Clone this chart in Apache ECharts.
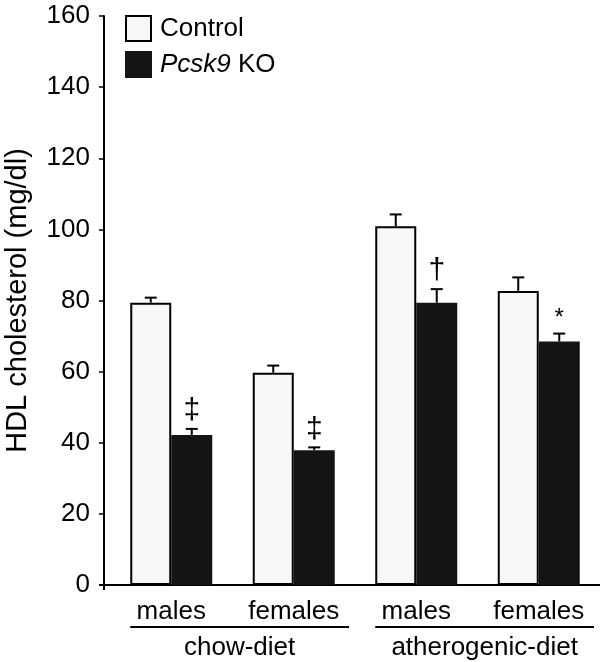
<!DOCTYPE html>
<html>
<head>
<meta charset="utf-8">
<script src="https://cdn.jsdelivr.net/npm/echarts@6/dist/echarts.min.js"></script>
<style>
  html, body { margin: 0; padding: 0; background: #fff; }
  #chart { width: 600px; height: 662px; }
</style>
</head>
<body>
<div id="chart"></div>
<script>
const categories = ['males', 'females', 'males', 'females']
const controlMeans = [79.4, 59.7, 100.9, 82.7]
const controlErr = [1.4, 2.0, 3.3, 3.8]
const koMeans = [42.2, 37.9, 79.4, 68.5]
const koErr = [1.7, 0.8, 3.8, 2.2]
const koMarks = ['‡', '‡', '†', '*']
const dietGroups = ['chow-diet', 'atherogenic-diet']
const dietSpans = [[0, 1], [2, 3]]
const yTicks = [0, 20, 40, 60, 80, 100, 120, 140, 160]

const FONT = '"Liberation Sans", Arial, Helvetica, sans-serif'
const BAR_W = 41
const GRID_LEFT = 110
const Y_OFFSET = 6

const chart = echarts.init(document.getElementById('chart'))

// upward-only error bar with a small cap, side -1 = control, +1 = KO
function errorBar(side) {
  return function (params, api) {
    const i = api.value(0)
    const base = api.coord([i, api.value(1)])
    const top = api.coord([i, api.value(1) + api.value(2)])
    const x = base[0] + side * BAR_W / 2
    const style = { stroke: '#000', lineWidth: 2 }
    return {
      type: 'group',
      children: [
        { type: 'line', shape: { x1: x, y1: base[1], x2: x, y2: top[1] }, style },
        { type: 'line', shape: { x1: x - 6, y1: top[1], x2: x + 6, y2: top[1] }, style },
      ],
    }
  }
}

chart.setOption({
  animation: false,
  backgroundColor: '#fff',
  textStyle: { fontFamily: FONT },
  grid: { left: GRID_LEFT, right: 0, top: 16, bottom: 77, outerBoundsMode: 'none' },
  legend: {
    data: ['Control', 'Pcsk9 KO'],
    orient: 'vertical',
    left: 125,
    top: 15,
    padding: 0,
    itemWidth: 25,
    itemHeight: 25,
    itemGap: 9,
    icon: 'rect',
    formatter: (name) => (name === 'Pcsk9 KO' ? '{i|Pcsk9} KO' : name),
    textStyle: {
      fontSize: 26,
      color: '#000',
      fontFamily: FONT,
      padding: [0, 0, 0, 4],
      rich: { i: { fontStyle: 'italic', fontSize: 26, fontFamily: FONT } },
    },
  },
  xAxis: {
    type: 'category',
    data: categories,
    axisLine: { lineStyle: { color: '#000', width: 2 } },
    axisTick: { show: false },
    axisLabel: { color: '#000', fontSize: 26, margin: 14, fontFamily: FONT },
  },
  yAxis: {
    type: 'value',
    min: yTicks[0],
    max: yTicks[yTicks.length - 1],
    interval: 20,
    offset: Y_OFFSET,
    name: 'HDL cholesterol (mg/dl)',
    nameLocation: 'middle',
    nameGap: 72,
    nameTextStyle: { color: '#000', fontSize: 29, fontFamily: FONT },
    axisLine: { show: true, lineStyle: { color: '#000', width: 2 } },
    axisTick: { show: true, length: 5, lineStyle: { color: '#000', width: 1.5 } },
    axisLabel: { color: '#000', fontSize: 26, margin: 14, fontFamily: FONT },
    splitLine: { show: false },
  },
  series: [
    {
      name: 'Control',
      type: 'bar',
      data: controlMeans,
      barWidth: BAR_W,
      barGap: '0%',
      itemStyle: { color: '#f7f7f7', borderColor: '#000', borderWidth: 2 },
    },
    {
      name: 'Pcsk9 KO',
      type: 'bar',
      data: koMeans,
      barWidth: BAR_W,
      itemStyle: { color: '#141414', borderColor: '#141414', borderWidth: 2 },
    },
    {
      type: 'custom',
      z: 5,
      renderItem: errorBar(-1),
      data: controlMeans.map((v, i) => [i, v, controlErr[i]]),
    },
    {
      type: 'custom',
      z: 5,
      renderItem: errorBar(1),
      data: koMeans.map((v, i) => [i, v, koErr[i]]),
    },
    {
      // significance marks above the KO error bars
      type: 'custom',
      z: 6,
      renderItem: (params, api) => {
        const i = api.value(0)
        const p = api.coord([i, api.value(1) + api.value(2)])
        const mark = koMarks[i]
        const star = mark === '*'
        return {
          type: 'text',
          x: p[0] + BAR_W / 2,
          y: p[1] - 3,
          style: {
            text: mark,
            fontSize: star ? 24 : 30,
            fontFamily: FONT,
            fill: '#000',
            align: 'center',
            verticalAlign: 'bottom',
          },
        }
      },
      data: koMeans.map((v, i) => [i, v, koErr[i]]),
    },
    {
      // diet group underline and label below the category labels
      type: 'custom',
      clip: false,
      renderItem: (params, api) => {
        const from = api.coord([api.value(0), 0])
        const to = api.coord([api.value(1), 0])
        const band = api.size([1, 0])[0]
        const x1 = from[0] - BAR_W
        const x2 = Math.min(to[0] + band / 2 - 6, 599)
        const y = from[1] + 42
        return {
          type: 'group',
          children: [
            { type: 'line', shape: { x1, y1: y, x2, y2: y }, style: { stroke: '#000', lineWidth: 2 } },
            {
              type: 'text',
              x: (x1 + x2) / 2,
              y: y + 21,
              style: {
                text: dietGroups[params.dataIndex],
                fontSize: 26,
                fontFamily: FONT,
                fill: '#000',
                align: 'center',
                verticalAlign: 'middle',
              },
            },
          ],
        }
      },
      data: dietSpans.map((s) => [s[0], s[1]]),
    },
  ],
})

// close the small corner between the offset y axis and the x axis line
const y0 = chart.convertToPixel({ yAxisIndex: 0 }, 0)
chart.setOption({
  graphic: [{
    type: 'line',
    shape: { x1: GRID_LEFT - Y_OFFSET - 5, y1: y0, x2: GRID_LEFT, y2: y0 },
    style: { stroke: '#000', lineWidth: 2 },
  }, {
    type: 'line',
    shape: { x1: GRID_LEFT - Y_OFFSET, y1: y0, x2: GRID_LEFT - Y_OFFSET, y2: y0 + 5 },
    style: { stroke: '#000', lineWidth: 2 },
  }],
})
</script>
</body>
</html>
